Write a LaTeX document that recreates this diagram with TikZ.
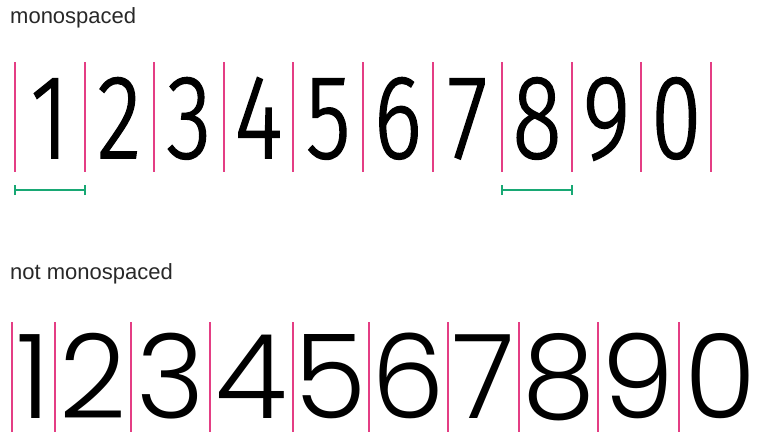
\documentclass[tikz,border=0pt]{standalone}
\usepackage{fontspec}
\setmainfont{Liberation Sans}
\newfontfamily\topdig{Fira Sans Condensed Light}[FakeBold=1.5]
\newfontfamily\botdig{Poppins Light}
\definecolor{pinkline}{RGB}{228,62,132}
\definecolor{greenbar}{RGB}{24,168,116}
\definecolor{labelgray}{RGB}{40,40,40}
\tikzset{
  sep/.style={draw=pinkline, line width=2pt},
  bar/.style={draw=greenbar, line width=2.2pt},
  tick/.style={draw=greenbar, line width=2pt},
  label/.style={anchor=base west, inner sep=0pt, text=labelgray, font=\fontsize{22}{22}\selectfont},
  mdig/.style={anchor=base, inner sep=0pt, font=\topdig\fontsize{119}{119}\selectfont},
  pdig/.style={anchor=base, inner sep=0pt, font=\botdig\fontsize{117}{117}\selectfont},
}
\begin{document}
\begin{tikzpicture}[x=1pt,y=-1pt]
\useasboundingbox (0,0) rectangle (762,432);
% labels
\node[label] (l1) at (10,23) {monospaced};
\node[label] (l2) at (10,279) {not monospaced};
% top row
\foreach \i/\x in {0/15,1/85,2/154,3/224,4/293,5/363,6/433,7/502,8/572,9/641,10/711}{
  \coordinate (ta\i) at (\x,62);
  \coordinate (tb\i) at (\x,172);
  \draw[sep] (ta\i) -- (tb\i);
}
\foreach \d/\i/\x in {1/1/49.8,2/2/119.4,3/3/189,4/4/258.6,5/5/328.2,6/6/397.8,7/7/467.4,8/8/537,9/9/606.6,0/10/676.2}{
  \node[mdig] (td\i) at (\x,158) {\scalebox{0.85}[1]{\d}};
}
% green measures
\coordinate (g1a) at (15,190); \coordinate (g1b) at (85,190);
\coordinate (g2a) at (502,190); \coordinate (g2b) at (572,190);
\draw[bar] (g1a) -- (g1b);
\draw[bar] (g2a) -- (g2b);
\foreach \c in {g1a,g1b,g2a,g2b}{
  \draw[tick] ([yshift=-5pt]\c) -- ([yshift=5pt]\c);
}
% bottom row
\foreach \i/\x in {0/12,1/55,2/131,3/210,4/293,5/369,6/448,7/519,8/598,9/679}{
  \coordinate (ba\i) at (\x,322);
  \coordinate (bb\i) at (\x,432);
  \draw[sep] (ba\i) -- (bb\i);
}
\foreach \d/\i/\x in {1/1/33.5,2/2/93,3/3/170.5,4/4/251.5,5/5/331,6/6/408.5,7/7/483.5,8/8/558.5,9/9/638.5,0/10/720.5}{
  \node[pdig] (bd\i) at (\x,418) {\d};
}
\end{tikzpicture}
\end{document}
